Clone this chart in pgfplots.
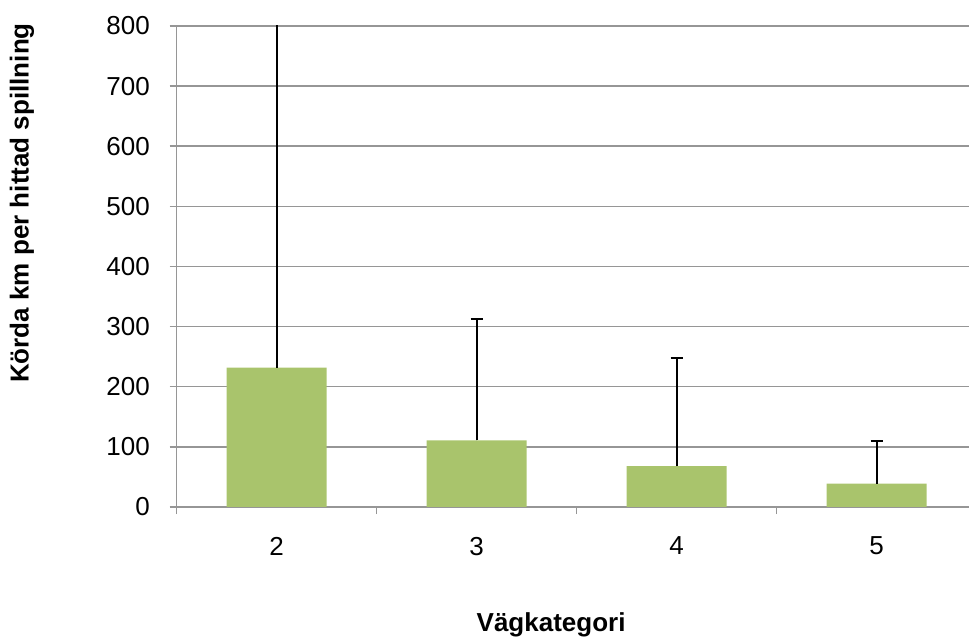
\documentclass[border=0pt]{standalone}
\usepackage{fontspec}
\setmainfont{Liberation Sans}
\usepackage{pgfplots}
\pgfplotsset{compat=1.18}
\definecolor{bargreen}{HTML}{A9C46C}
\definecolor{gridgray}{HTML}{969696}
\begin{document}
\fontsize{26bp}{31bp}\selectfont
\begin{tikzpicture}
\useasboundingbox (0,0) rectangle (969bp,637bp);
\begin{axis}[
  at={(176.7bp,130bp)}, anchor=south west,
  scale only axis, width=800bp, height=481bp,
  xmin=-0.5, xmax=3.5, ymin=0, ymax=800,
  axis lines*=left,
  axis line style={gridgray, line width=1.5bp},
  xtick={-0.5,0.5,1.5,2.5,3.5},
  x tick label as interval,
  xticklabels={2,3,4,5},
  ytick={0,100,...,800},
  tick align=outside,
  major tick length=7bp,
  tick style={gridgray, line width=1.5bp},
  ymajorgrids, grid style={gridgray, line width=1.5bp},
  /pgf/number format/assume math mode=true,
  ticklabel style={font=\fontsize{26bp}{31bp}\selectfont},
  yticklabel style={xshift=-11bp},
  xticklabel style={yshift=-14bp},
  every axis y label/.style={at={(axis description cs:-0.1934,0.632)}, rotate=90, anchor=center, font=\fontsize{26bp}{31bp}\selectfont\bfseries},
  every axis x label/.style={at={(axis description cs:0.468,-0.2453)}, anchor=center, font=\fontsize{26bp}{31bp}\selectfont\bfseries},
  ylabel={Körda km per hittad spillning},
  xlabel={Vägkategori},
]
\addplot[ybar, bar width=100bp, fill=bargreen, draw=none,
  error bars/.cd, y dir=plus, y explicit,
  error bar style={black, line width=2bp},
  error mark options={black, rotate=90, mark size=6bp, line width=2bp}]
  coordinates {(0,232) +- (0,700) (1,111) +- (0,201) (2,68) +- (0,179) (3,39) +- (0,70)};
\end{axis}
\end{tikzpicture}
\end{document}
